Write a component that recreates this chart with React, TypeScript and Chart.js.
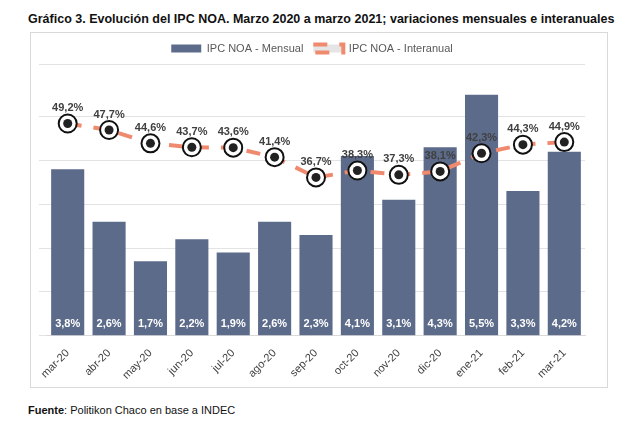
import React, { useEffect, useRef } from "react";
import { Chart, registerables } from "chart.js";
Chart.register(...registerables);

const categories = ["mar-20","abr-20","may-20","jun-20","jul-20","ago-20","sep-20","oct-20","nov-20","dic-20","ene-21","feb-21","mar-21"];
const mensual = [3.8,2.6,1.7,2.2,1.9,2.6,2.3,4.1,3.1,4.3,5.5,3.3,4.2];
const interanual = [49.2,47.7,44.6,43.7,43.6,41.4,36.7,38.3,37.3,38.1,42.3,44.3,44.9];

const fmt = (v: number) => v.toFixed(1).replace(".", ",") + "%";

const labelPlugin = {
  id: "labels",
  afterDatasetsDraw(chart: any) {
    const ctx = chart.ctx;
    ctx.save();
    ctx.font = "bold 11px Arial, 'Liberation Sans'";
    ctx.textAlign = "center";
    const bm = chart.getDatasetMeta(0);
    ctx.fillStyle = "#ffffff";
    ctx.textBaseline = "middle";
    bm.data.forEach((el: any, i: number) => ctx.fillText(fmt(mensual[i]), el.x, chart.chartArea.bottom - 12));
    const lm = chart.getDatasetMeta(2);
    ctx.fillStyle = "#404040";
    ctx.textBaseline = "bottom";
    lm.data.forEach((el: any, i: number) => ctx.fillText(fmt(interanual[i]), el.x, el.y - 10));
    ctx.restore();
  },
};

export default function App() {
  const ref = useRef<HTMLCanvasElement>(null);
  useEffect(() => {
    const chart = new Chart(ref.current!, {
      type: "bar",
      data: {
        labels: categories,
        datasets: [
          { type: "bar", label: "IPC NOA - Mensual", data: mensual, backgroundColor: "#5d6b8b", yAxisID: "y", categoryPercentage: 0.8, barPercentage: 1, order: 3 },
          { type: "line", label: "IPC NOA - Interanual", data: interanual, yAxisID: "y2", borderColor: "#f08a6e", borderWidth: 4, borderDash: [14, 12], pointRadius: 9, pointBackgroundColor: "#ffffff", pointBorderColor: "#111111", pointBorderWidth: 2, pointStyle: "circle", order: 2 } as any,
          { type: "line", label: "dot", data: interanual, yAxisID: "y2", showLine: false, pointRadius: 4.5, pointBackgroundColor: "#222222", pointBorderWidth: 0, order: 1 } as any,
        ],
      },
      options: {
        animation: false,
        responsive: false,
        layout: { padding: { left: 8, right: 22, top: 0, bottom: 0 } },
        plugins: {
          legend: {
            labels: {
              filter: (it: any) => it.text !== "dot",
              sort: (a: any, b: any) => a.datasetIndex - b.datasetIndex,
              font: { size: 11, family: "Arial, 'Liberation Sans'" },
              color: "#595959",
              boxWidth: 30,
              boxHeight: 8,
            },
          },
          tooltip: { enabled: false },
        },
        scales: {
          x: { grid: { display: false }, border: { color: "#d9d9d9" }, ticks: { maxRotation: 45, minRotation: 45, color: "#404040", font: { size: 11, family: "Arial, 'Liberation Sans'" } } },
          y: { min: 0, max: 6.2, ticks: { display: false, stepSize: 1 }, border: { display: false }, grid: { color: "#e3e3e3" } },
          y2: { position: "right", min: 0, max: 63, display: false },
        },
      },
      plugins: [labelPlugin],
    });
    return () => chart.destroy();
  }, []);
  return (
    <div style={{ fontFamily: "Arial, 'Liberation Sans', sans-serif", width: 610 }}>
      <div style={{ fontWeight: "bold", fontSize: 12.5, marginLeft: 20, marginTop: 4, color: "#111" }}>
        Gráfico 3. Evolución del IPC NOA. Marzo 2020 a marzo 2021; variaciones mensuales e interanuales
      </div>
      <div style={{ border: "1px solid #d9d9d9", marginLeft: 22, marginTop: 6, width: 576, height: 354 }}>
        <canvas ref={ref} width={576} height={352} />
      </div>
      <div style={{ fontSize: 11, marginLeft: 20, marginTop: 16, color: "#111" }}>
        <b>Fuente</b>: Politikon Chaco en base a INDEC
      </div>
    </div>
  );
}
